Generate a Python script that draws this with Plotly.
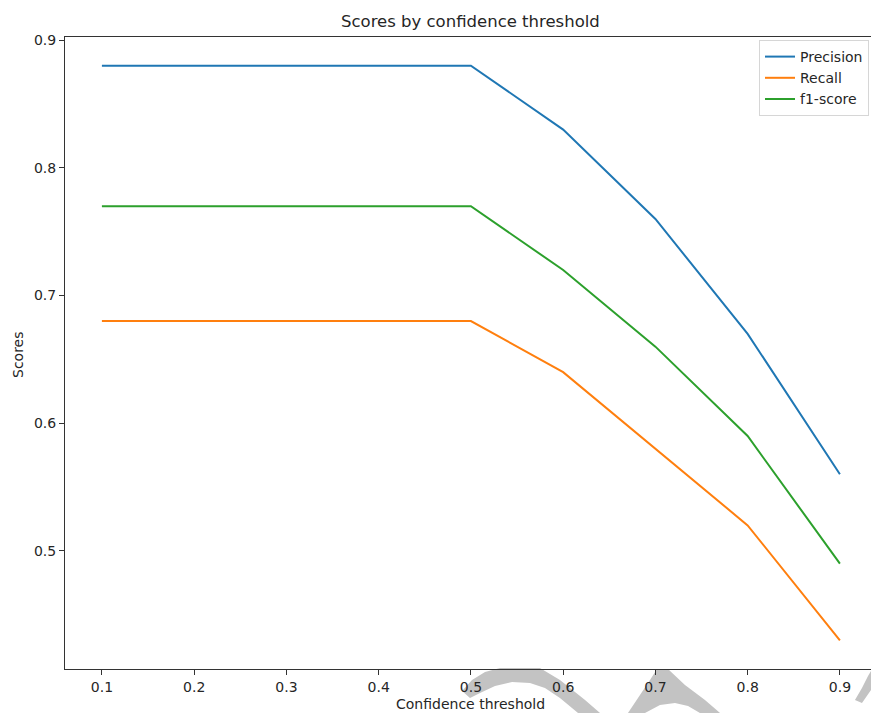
import plotly.graph_objects as go

thresholds = [0.1, 0.2, 0.3, 0.4, 0.5, 0.6, 0.7, 0.8, 0.9]
precision = [0.88, 0.88, 0.88, 0.88, 0.88, 0.83, 0.76, 0.67, 0.56]
recall = [0.68, 0.68, 0.68, 0.68, 0.68, 0.64, 0.58, 0.52, 0.43]
f1_score = [0.77, 0.77, 0.77, 0.77, 0.77, 0.72, 0.66, 0.59, 0.49]
x_ticks = [0.1, 0.2, 0.3, 0.4, 0.5, 0.6, 0.7, 0.8, 0.9]
y_ticks = [0.5, 0.6, 0.7, 0.8, 0.9]

# plot area in reference pixels
W, H = 871, 713
L, T, B = 65, 37, 669
FONT = "DejaVu Sans"
TXT = "#262626"

fig = go.Figure()
for name, vals, col in [("Precision", precision, "#1f77b4"),
                        ("Recall", recall, "#ff7f0e"),
                        ("f1-score", f1_score, "#2ca02c")]:
    fig.add_trace(go.Scatter(x=thresholds, y=vals, mode="lines", name=name,
                             line=dict(color=col, width=2)))

def P(px, py):
    # reference pixel -> paper coords
    return (px - L) / (W - L), (B - py) / (B - T)

def path(pts):
    s = ""
    for i, (px, py) in enumerate(pts):
        x, y = P(px, py)
        s += ("M" if i == 0 else "L") + f"{x:.4f},{y:.4f} "
    return s + "Z"

wm = "#c3c3c3"
shapes = [
    dict(type="path", xref="paper", yref="paper", layer="below", line=dict(width=0), fillcolor=wm,
         path=path([(462, 691), (472, 680), (485, 672), (500, 668), (540, 668), (560, 680),
                    (585, 700), (600, 713), (578, 713), (560, 698), (545, 688), (530, 683),
                    (512, 682), (495, 686), (480, 693), (470, 698)])),
    dict(type="path", xref="paper", yref="paper", layer="below", line=dict(width=0), fillcolor=wm,
         path=path([(628, 713), (640, 695), (650, 680), (657, 669), (668, 669), (685, 685),
                    (705, 700), (720, 713), (700, 713), (688, 706), (675, 703), (660, 705),
                    (645, 713)])),
    dict(type="path", xref="paper", yref="paper", layer="below", line=dict(width=0), fillcolor=wm,
         path=path([(855, 700), (862, 688), (868, 676), (871, 671), (871, 690), (862, 703)])),
]

px_per_x = 922.5  # pixels per unit x
fig.update_layout(
    width=W, height=H,
    margin=dict(l=L, r=0, t=T, b=H - B, pad=0),
    paper_bgcolor="white", plot_bgcolor="white",
    font=dict(family=FONT, size=14, color=TXT),
    showlegend=True,
    legend=dict(x=P(869, 0)[0], xanchor="right", y=P(0, 40)[1], yanchor="top",
                bgcolor="rgba(255,255,255,0.8)", bordercolor="#d6d6d6", borderwidth=1,
                font=dict(size=14, color=TXT), tracegroupgap=0),
    xaxis=dict(range=[0.06, 0.06 + (W - L) / px_per_x], tickvals=x_ticks,
               ticktext=[f"{v:.1f}" for v in x_ticks], showgrid=False, zeroline=False,
               showline=True, linecolor="#333333", linewidth=1, mirror=True,
               ticks="outside", ticklen=5, tickcolor="#333333", tickfont=dict(size=14, color=TXT)),
    yaxis=dict(range=[0.4075, 0.9025], tickvals=y_ticks,
               ticktext=[f"{v:.1f}" for v in y_ticks], showgrid=False, zeroline=False,
               showline=True, linecolor="#333333", linewidth=1, mirror=False,
               ticks="outside", ticklen=5, tickcolor="#333333", tickfont=dict(size=14, color=TXT)),
    shapes=shapes,
    annotations=[
        dict(text="Scores by confidence threshold", xref="paper", yref="paper",
             x=P(470, 0)[0], y=P(0, 21)[1], xanchor="center", yanchor="middle",
             showarrow=False, font=dict(size=16.5, color=TXT)),
        dict(text="Confidence threshold", xref="paper", yref="paper",
             x=P(470, 0)[0], y=P(0, 704)[1], xanchor="center", yanchor="middle",
             showarrow=False, font=dict(size=14, color=TXT)),
        dict(text="Scores", xref="paper", yref="paper", textangle=-90,
             x=P(18, 0)[0], y=P(0, 355)[1], xanchor="center", yanchor="middle",
             showarrow=False, font=dict(size=14, color=TXT)),
    ],
)

fig.write_html("out.html",
               config={"displayModeBar": False},
               post_script="document.body.style.margin='0';document.body.style.overflow='hidden';")
